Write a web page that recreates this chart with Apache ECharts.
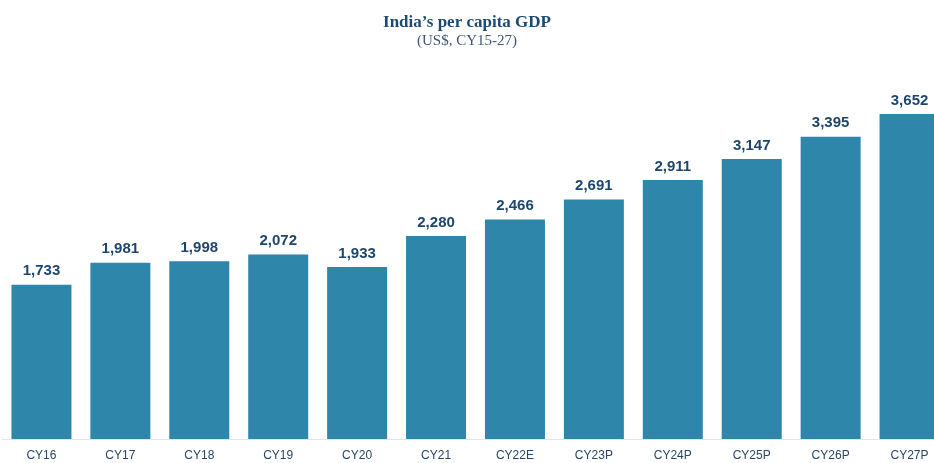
<!DOCTYPE html>
<html>
<head>
<meta charset="utf-8">
<script src="https://cdn.jsdelivr.net/npm/echarts@6/dist/echarts.min.js"></script>
<style>
  html, body { margin: 0; padding: 0; background: #fff; }
  #chart { width: 934px; height: 463px; }
</style>
</head>
<body>
<div id="chart"></div>
<script>
// per capita GDP, US$
const years = ['CY16', 'CY17', 'CY18', 'CY19', 'CY20', 'CY21', 'CY22E', 'CY23P', 'CY24P', 'CY25P', 'CY26P', 'CY27P']
const gdpPerCapita = [1733, 1981, 1998, 2072, 1933, 2280, 2466, 2691, 2911, 3147, 3395, 3652]

var myChart = echarts.init(document.getElementById('chart'))

var option = {
    animation: false,
    title: {
        text: 'India\u2019s per capita GDP',
        subtext: '(US$, CY15-27)',
        left: 'center',
        top: 9,
        itemGap: 3,
        textStyle: {
            fontFamily: 'Liberation Serif',
            fontWeight: 'bold',
            fontSize: 17,
            color: '#1d4a75'
        },
        subtextStyle: {
            fontFamily: 'Liberation Serif',
            fontSize: 15,
            color: '#3f5677'
        }
    },
    // grid runs past the right edge so the last bar is cut like the original
    grid: {
        left: 2,
        width: 947,
        top: 83,
        bottom: 24,
        containLabel: false,
        outerBoundsMode: 'none'
    },
    xAxis: {
        type: 'category',
        data: years,
        axisLine: { show: true, lineStyle: { color: '#e3e3e3', width: 1 } },
        axisTick: { show: false },
        axisLabel: {
            margin: 11,
            fontFamily: 'Liberation Sans',
            fontSize: 12,
            color: '#2a4668'
        }
    },
    yAxis: {
        type: 'value',
        min: 0,
        max: 4000,
        show: false
    },
    series: [{
        type: 'bar',
        data: gdpPerCapita,
        barWidth: 60,
        itemStyle: { color: '#2e86aa' },
        label: {
            show: true,
            position: 'top',
            distance: 6,
            fontFamily: 'Liberation Sans',
            fontWeight: 'bold',
            fontSize: 15,
            color: '#1e466d',
            formatter: function (p) {
                return p.value.toLocaleString('en-US')
            }
        }
    }]
}

myChart.setOption(option)
</script>
</body>
</html>
